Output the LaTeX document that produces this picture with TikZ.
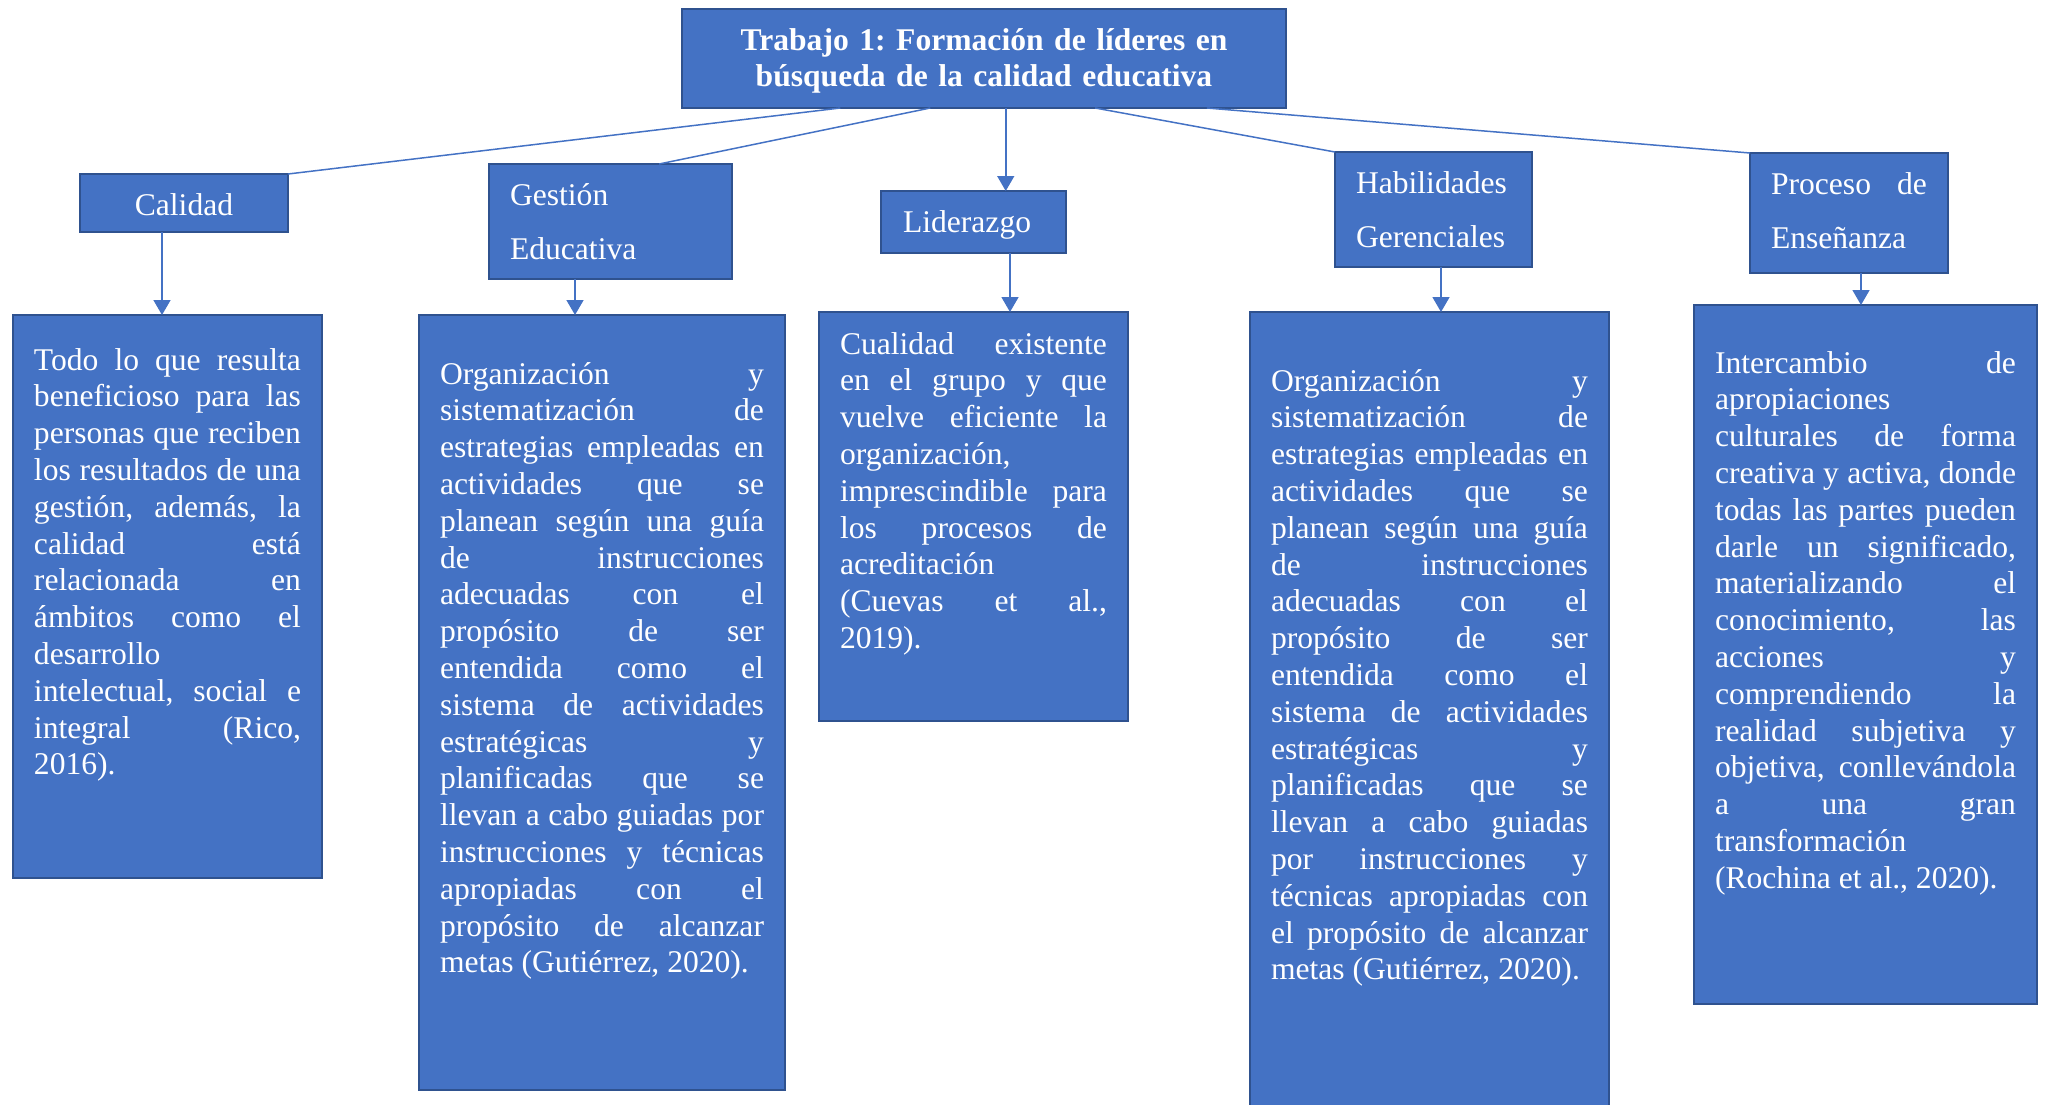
\documentclass[tikz,border=0pt]{standalone}
\usepackage{fontspec}
\setmainfont{Liberation Serif}
\usetikzlibrary{arrows.meta,calc}
\frenchspacing

\definecolor{mapblue}{HTML}{4472C4}
\definecolor{mapedge}{HTML}{2F528F}

\begin{document}
\begin{tikzpicture}[x=1pt, y=-1pt,
  mapbox/.style={draw=mapedge, line width=2pt, fill=mapblue, text=white,
    anchor=north west, inner xsep=21pt, inner ysep=0pt, outer sep=0pt},
  descbox/.style={mapbox, align=justify, font=\Txtsize,
    execute at begin node={\tolerance=10000\hyphenpenalty=10000}},
  labelbox/.style={mapbox, font=\Lblsize, text height=41pt},
  link/.style={draw=mapblue, line width=1.5pt},
  arr/.style={link, -{Triangle[length=15pt,width=17pt]}}]
\newcommand{\Txtsize}{\fontsize{31.6}{36.8}\selectfont\frenchspacing} % body text
\newcommand{\Lblsize}{\fontsize{31.6}{54}\selectfont} % box labels

\useasboundingbox (0,0) rectangle (2046,1104);

% title
\node[mapbox, inner xsep=0pt, text width=604pt, align=center,
  font=\bfseries\Txtsize, text height=41pt, text depth=58pt] (title) at (682,9)
  {Trabajo 1: Formación de líderes en\\búsqueda de la calidad educativa};

% labels
\node[labelbox, inner xsep=0pt, text width=208pt, align=center, text depth=17pt]
  (cal) at (80,174) {Calidad};
\node[labelbox, text width=201pt, align=left, text depth=74pt]
  (ges) at (489,164) {Gestión\\Educativa};
\node[labelbox, inner xsep=22pt, text width=141pt, align=left, text depth=21pt]
  (lid) at (881,191) {Liderazgo};
\node[labelbox, text width=155pt, align=left, text depth=74pt]
  (hab) at (1335,152) {Habilidades\\Gerenciales};
\node[labelbox, text width=156pt, align=justify, text depth=79pt]
  (proc) at (1750,153) {Proceso de \linebreak Enseñanza};

% descriptions
\node[descbox, text width=267pt, text height=55pt, text depth=508pt] (dcal) at (13,315)
  {Todo lo que resulta \linebreak beneficioso para las \linebreak personas que reciben
   \linebreak los resultados de una \linebreak gestión, además, la \linebreak calidad está
   \linebreak relacionada en \linebreak ámbitos como el \linebreak desarrollo
   \linebreak intelectual, social e \linebreak integral (Rico, \linebreak 2016).};
\node[descbox, text width=324pt, text height=69pt, text depth=706pt] (dges) at (419,315)
  {Organización y \linebreak sistematización de \linebreak estrategias empleadas en
   \linebreak actividades que se \linebreak planean según una guía \linebreak de instrucciones
   \linebreak adecuadas con el \linebreak propósito de ser \linebreak entendida como el
   \linebreak sistema de actividades \linebreak estratégicas y \linebreak planificadas que se
   \linebreak llevan a cabo guiadas por \linebreak instrucciones y técnicas
   \linebreak apropiadas con el \linebreak propósito de alcanzar \linebreak metas (Gutiérrez, 2020).};
\node[descbox, text width=267pt, text height=42pt, text depth=367pt] (dlid) at (819,312)
  {Cualidad existente \linebreak en el grupo y que \linebreak vuelve eficiente la
   \linebreak organización, \linebreak imprescindible para \linebreak los procesos de
   \linebreak acreditación \linebreak (Cuevas et al., \linebreak 2019).};
\node[descbox, text width=317pt, text height=79pt, text depth=719pt] (dhab) at (1250,312)
  {Organización y \linebreak sistematización de \linebreak estrategias empleadas en
   \linebreak actividades que se \linebreak planean según una guía \linebreak de instrucciones
   \linebreak adecuadas con el \linebreak propósito de ser \linebreak entendida como el
   \linebreak sistema de actividades \linebreak estratégicas y \linebreak planificadas que se
   \linebreak llevan a cabo guiadas \linebreak por instrucciones y
   \linebreak técnicas apropiadas con \linebreak el propósito de alcanzar \linebreak metas (Gutiérrez, 2020).};
\node[descbox, text width=301pt, text height=68pt, text depth=631pt] (dproc) at (1694,305)
  {Intercambio de \linebreak apropiaciones \linebreak culturales de forma
   \linebreak creativa y activa, donde \linebreak todas las partes pueden
   \linebreak darle un significado, \linebreak materializando el \linebreak conocimiento, las
   \linebreak acciones y \linebreak comprendiendo la \linebreak realidad subjetiva y
   \linebreak objetiva, conllevándola \linebreak a una gran \linebreak transformación
   \linebreak (Rochina et al., 2020).};

% points on the lower edge of the title
\coordinate (tA) at ($(title.south west)!0.262!(title.south east)$);
\coordinate (tB) at ($(title.south west)!0.411!(title.south east)$);
\coordinate (tC) at ($(title.south west)!0.536!(title.south east)$);
\coordinate (tD) at ($(title.south west)!0.684!(title.south east)$);
\coordinate (tE) at ($(title.south west)!0.869!(title.south east)$);

% title to labels
\draw[link] (tA) -- (cal.north east);
\draw[link] (tB) -- ($(ges.north west)!0.7!(ges.north east)$);
\draw[arr]  (tC) -- (tC |- lid.north);
\draw[link] (tD) -- (hab.north west);
\draw[link] (tE) -- (proc.north west);

% labels to descriptions
\coordinate (xCal)  at (162,0);
\coordinate (xGes)  at (575,0);
\coordinate (xLid)  at (1010,0);
\coordinate (xHab)  at (1441,0);
\coordinate (xProc) at (1861,0);
\draw[arr] (xCal |- cal.south)   -- (xCal |- dcal.north);
\draw[arr] (xGes |- ges.south)   -- (xGes |- dges.north);
\draw[arr] (xLid |- lid.south)   -- (xLid |- dlid.north);
\draw[arr] (xHab |- hab.south)   -- (xHab |- dhab.north);
\draw[arr] (xProc |- proc.south) -- (xProc |- dproc.north);
\end{tikzpicture}
\end{document}
